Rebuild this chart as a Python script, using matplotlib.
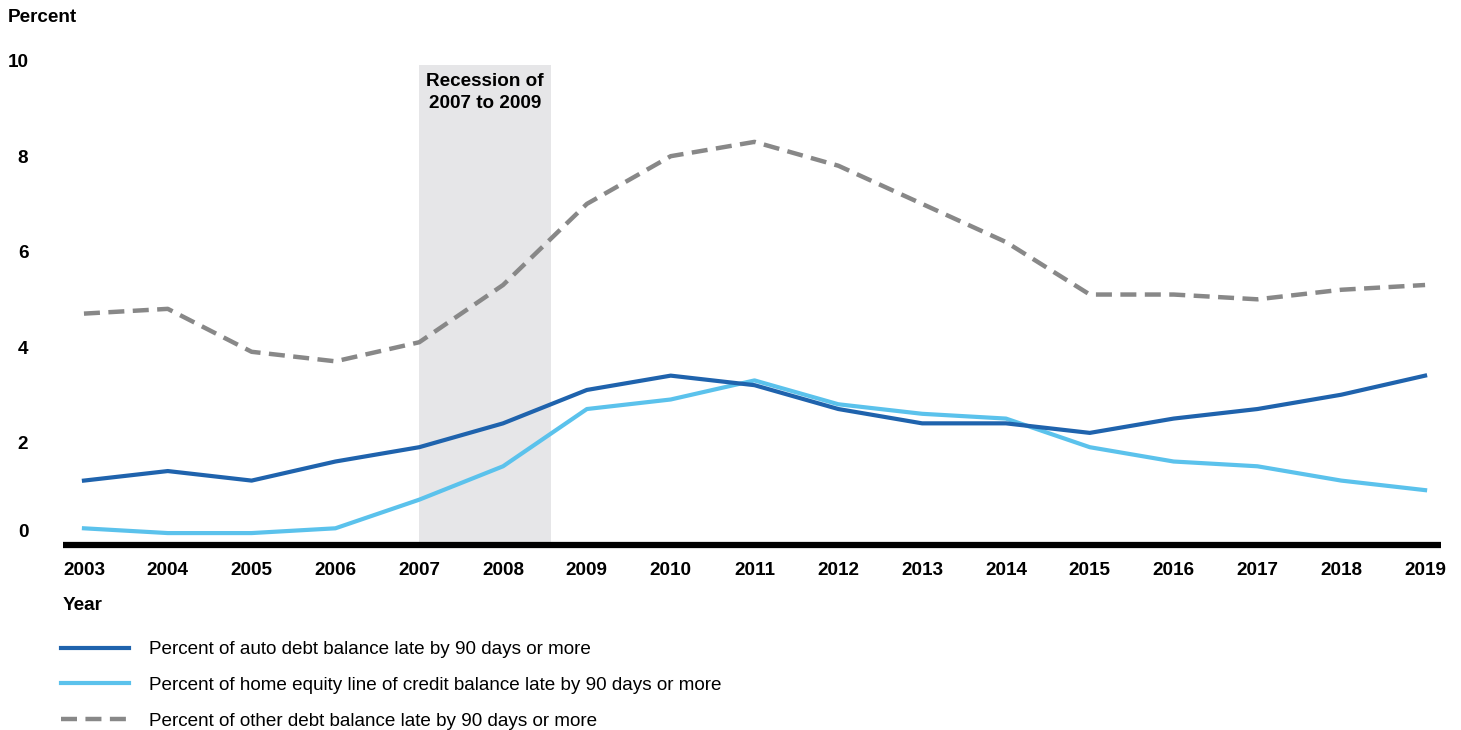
import matplotlib
matplotlib.use("Agg")
import matplotlib.pyplot as plt
import matplotlib.transforms as mtransforms

plt.rcParams['font.family'] = ['Liberation Sans', 'DejaVu Sans']

years = list(range(2003, 2020))
auto_late = [1.2, 1.4, 1.2, 1.6, 1.9, 2.4, 3.1, 3.4, 3.2, 2.7, 2.4, 2.4, 2.2, 2.5, 2.7, 3.0, 3.4]
heloc_late = [0.2, 0.1, 0.1, 0.2, 0.8, 1.5, 2.7, 2.9, 3.3, 2.8, 2.6, 2.5, 1.9, 1.6, 1.5, 1.2, 1.0]
other_late = [4.7, 4.8, 3.9, 3.7, 4.1, 5.3, 7.0, 8.0, 8.3, 7.8, 7.0, 6.2, 5.1, 5.1, 5.0, 5.2, 5.3]

series_labels = [
    "Percent of auto debt balance late by 90 days or more",
    "Percent of home equity line of credit balance late by 90 days or more",
    "Percent of other debt balance late by 90 days or more",
]
y_ticks = [0, 2, 4, 6, 8, 10]
recession_start, recession_end = 2007, 2008.57
recession_label = "Recession of\n2007 to 2009"

FS = 13.6
W, H = 1461, 730
fig = plt.figure(figsize=(W / 100, H / 100), dpi=100)

# axes placed in pixel terms: x from 63 to 1441, y from 545 (bottom) to 56 (top)
left, right, bottom, top = 63, 1441, 545, 56
ax = fig.add_axes([left / W, 1 - bottom / H, (right - left) / W, (bottom - top) / H])
ax.set_xlim(2002.75, 2019.19)
ax.set_ylim(-0.15, 10.1)

dark_blue = "#1f63ad"
light_blue = "#5bc2ec"
gray = "#888888"

ax.axvspan(recession_start, recession_end, ymin=0, ymax=(9.92 + 0.15) / 10.25,
           color="#e6e6e8", zorder=0, lw=0)
ax.text((recession_start + recession_end) / 2, 9.74, recession_label,
        ha="center", va="top", fontsize=FS, fontweight="bold", linespacing=1.4)

l1, = ax.plot(years, other_late, color=gray, lw=3.2, linestyle=(0, (3.6, 1.9)),
              label=series_labels[2])
l2, = ax.plot(years, heloc_late, color=light_blue, lw=3.0, label=series_labels[1])
l3, = ax.plot(years, auto_late, color=dark_blue, lw=3.0, label=series_labels[0])

for s in ["top", "right", "left"]:
    ax.spines[s].set_visible(False)
ax.spines["bottom"].set_linewidth(4.5)
ax.spines["bottom"].set_color("black")
ax.spines["bottom"].set_capstyle("butt")

ax.set_yticks(y_ticks)
ax.set_yticklabels([str(t) for t in y_ticks], fontsize=FS, fontweight="bold")
ax.set_xticks(years)
ax.set_xticklabels([str(y) for y in years], fontsize=FS, fontweight="bold")
ax.tick_params(axis="y", length=0, pad=25)
ax.tick_params(axis="x", length=0, pad=12)

# lift the zero label clear of the heavy baseline
zero_lbl = ax.get_yticklabels()[0]
zero_lbl.set_transform(zero_lbl.get_transform() +
                       mtransforms.ScaledTranslation(0, 7 / 100, fig.dpi_scale_trans))

fig.text(8 / W, 1 - 17 / H, "Percent", ha="left", va="center",
         fontsize=FS, fontweight="bold")
fig.text(63 / W, 1 - 605 / H, "Year", ha="left", va="center",
         fontsize=FS, fontweight="bold")

fig.legend(handles=[l3, l2, l1], labels=series_labels,
           loc="upper left", bbox_to_anchor=(61 / W, 1 - 641 / H),
           frameon=False, fontsize=FS, handlelength=3.6, handletextpad=1.05,
           labelspacing=0.98, borderpad=0, borderaxespad=0)

fig.savefig("out.png", dpi=100)
